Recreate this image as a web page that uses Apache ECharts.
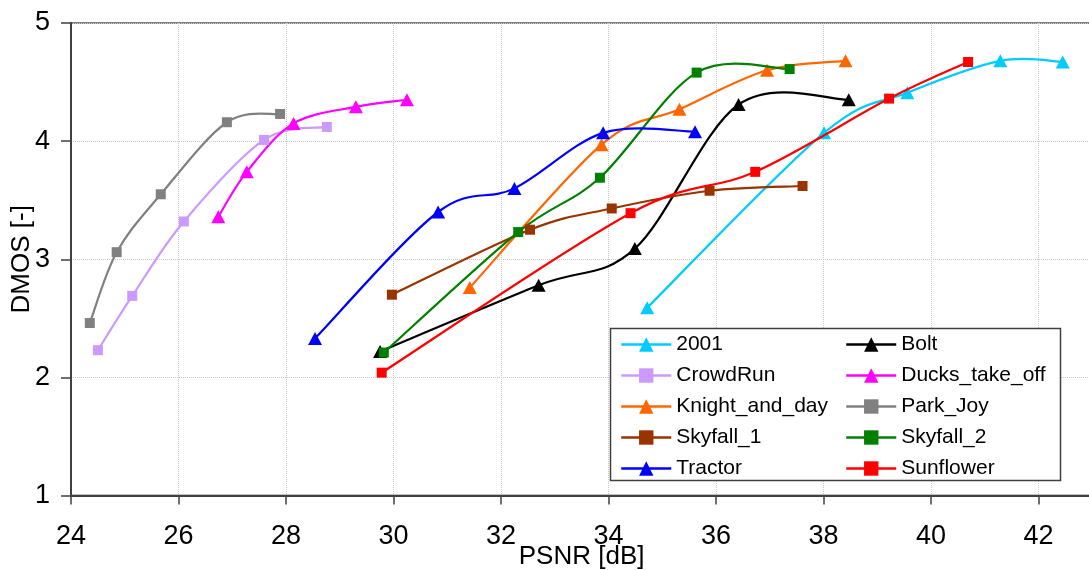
<!DOCTYPE html>
<html>
<head>
<meta charset="utf-8">
<script src="https://cdn.jsdelivr.net/npm/echarts@6/dist/echarts.min.js"></script>
<style>
html, body { margin: 0; padding: 0; background: #fff; }
#chart { width: 1089px; height: 570px; }
</style>
</head>
<body>
<div id="chart"></div>
<script>
// PSNR [dB] vs DMOS [-], one pair list per sequence
const seq2001 = [[34.72, 2.59], [38.01, 4.07], [39.56, 4.41], [41.29, 4.68], [42.45, 4.67]];
const bolt = [[29.75, 2.22], [32.70, 2.78], [34.49, 3.09], [36.42, 4.31], [38.47, 4.35]];
const crowdRun = [[24.50, 2.23], [25.14, 2.69], [26.10, 3.32], [27.59, 4.01], [28.76, 4.12]];
const ducks = [[26.74, 3.36], [27.27, 3.74], [28.14, 4.15], [29.30, 4.29], [30.25, 4.35]];
const knight = [[31.42, 2.76], [33.87, 3.97], [35.32, 4.27], [36.95, 4.60], [38.41, 4.68]];
const parkJoy = [[24.35, 2.46], [24.85, 3.06], [25.67, 3.55], [26.90, 4.16], [27.89, 4.23]];
const skyfall1 = [[29.97, 2.70], [32.54, 3.25], [34.06, 3.43], [35.88, 3.58], [37.61, 3.62]];
const skyfall2 = [[29.82, 2.21], [32.32, 3.23], [33.84, 3.69], [35.64, 4.58], [37.37, 4.61]];
const tractor = [[28.54, 2.33], [30.83, 3.40], [32.25, 3.60], [33.90, 4.07], [35.61, 4.08]];
const sunflower = [[29.78, 2.04], [34.41, 3.39], [36.73, 3.74], [39.22, 4.36], [40.69, 4.67]];

const names = ['2001', 'Bolt', 'CrowdRun', 'Ducks_take_off', 'Knight_and_day',
               'Park_Joy', 'Skyfall_1', 'Skyfall_2', 'Tractor', 'Sunflower'];
const values = [seq2001, bolt, crowdRun, ducks, knight, parkJoy, skyfall1, skyfall2, tractor, sunflower];

const colors = ['#00CCFF', '#000000', '#CC99FF', '#FF00FF', '#FF6600',
                '#808080', '#993300', '#008000', '#0000FF', '#FF0000'];
const symbols = ['triangle', 'triangle', 'rect', 'triangle', 'triangle',
                 'rect', 'rect', 'rect', 'triangle', 'rect'];

const FONT = 'Liberation Sans, Arial, sans-serif';
const LINE_W = 2.2;

const chart = echarts.init(document.getElementById('chart'));

// excel-like smoothed line (catmull-rom as bezier), points mapped with api.coord
function smoothPath(pts, api) {
    const p = pts.map(function (d) { return api.coord(d); });
    let d = 'M' + p[0][0] + ' ' + p[0][1];
    for (let i = 0; i < p.length - 1; i++) {
        const p0 = p[Math.max(i - 1, 0)], p1 = p[i], p2 = p[i + 1], p3 = p[Math.min(i + 2, p.length - 1)];
        const c1x = p1[0] + (p2[0] - p0[0]) / 6, c1y = p1[1] + (p2[1] - p0[1]) / 6;
        const c2x = p2[0] - (p3[0] - p1[0]) / 6, c2y = p2[1] - (p3[1] - p1[1]) / 6;
        d += ' C' + c1x + ' ' + c1y + ' ' + c2x + ' ' + c2y + ' ' + p2[0] + ' ' + p2[1];
    }
    return d;
}

const series = [];
names.forEach(function (n, i) {
    const pts = values[i];
    series.push({
        name: n + '_curve',
        type: 'custom',
        data: pts,
        silent: true,
        z: 2 + i,
        renderItem: function (params, api) {
            if (params.dataIndex !== 0) return null;
            return {
                type: 'path',
                shape: { pathData: smoothPath(pts, api) },
                style: { fill: 'none', stroke: colors[i], lineWidth: LINE_W }
            };
        }
    });
    series.push({
        name: n,
        type: 'line',
        data: pts,
        color: colors[i],
        symbol: symbols[i],
        symbolSize: symbols[i] === 'rect' ? 10 : [14, 13],
        lineStyle: { width: LINE_W, color: colors[i], opacity: 0 },
        itemStyle: { color: colors[i] },
        z: 3 + i
    });
});

function legendCol(list, left) {
    return {
        data: list,
        orient: 'vertical',
        left: left,
        top: 334,
        padding: 0,
        itemGap: 10,
        itemWidth: 50,
        itemHeight: 18,
        lineStyle: { opacity: 1, width: 2.5 },
        textStyle: { fontSize: 21, fontFamily: FONT, color: '#000', lineHeight: 20 },
        z: 10
    };
}

chart.setOption({
    animation: false,
    backgroundColor: '#fff',
    grid: {
        left: 71, top: 23, width: 1021.25, height: 472.5,
        show: true, borderColor: '#808080', borderWidth: 2,
        containLabel: false,
        outerBoundsMode: 'none'
    },
    xAxis: {
        type: 'value',
        min: 24, max: 43, interval: 2,
        name: 'PSNR [dB]',
        nameLocation: 'middle',
        nameGap: 48,
        nameMoveOverlap: false,
        nameTextStyle: { fontSize: 26, fontFamily: FONT, color: '#000' },
        axisLine: { lineStyle: { color: '#404040', width: 2 } },
        axisTick: { show: true, inside: false, length: 9, lineStyle: { color: '#404040', width: 1.5 } },
        axisLabel: { fontSize: 27, fontFamily: FONT, color: '#000', margin: 28, showMaxLabel: false },
        splitLine: { show: true, lineStyle: { color: '#c8c8c8', type: 'dotted', width: 1 } }
    },
    yAxis: {
        type: 'value',
        min: 1, max: 5, interval: 1,
        name: 'DMOS [-]',
        nameLocation: 'middle',
        nameGap: 36,
        nameMoveOverlap: false,
        nameTextStyle: { fontSize: 26, fontFamily: FONT, color: '#000' },
        axisLine: { show: true, lineStyle: { color: '#404040', width: 2 } },
        axisTick: { show: true, inside: false, length: 10, lineStyle: { color: '#404040', width: 1.5 } },
        axisLabel: { fontSize: 27, fontFamily: FONT, color: '#000', margin: 21 },
        splitLine: { show: true, lineStyle: { color: '#c8c8c8', type: 'dotted', width: 1 } }
    },
    legend: [
        legendCol(['2001', 'CrowdRun', 'Knight_and_day', 'Skyfall_1', 'Tractor'], 620),
        legendCol(['Bolt', 'Ducks_take_off', 'Park_Joy', 'Skyfall_2', 'Sunflower'], 845)
    ],
    graphic: [{
        type: 'rect',
        z: 9,
        shape: { x: 610.5, y: 328.5, width: 450, height: 152 },
        style: { fill: '#fff', stroke: '#404040', lineWidth: 1.5 }
    }],
    series: series
});
</script>
</body>
</html>
